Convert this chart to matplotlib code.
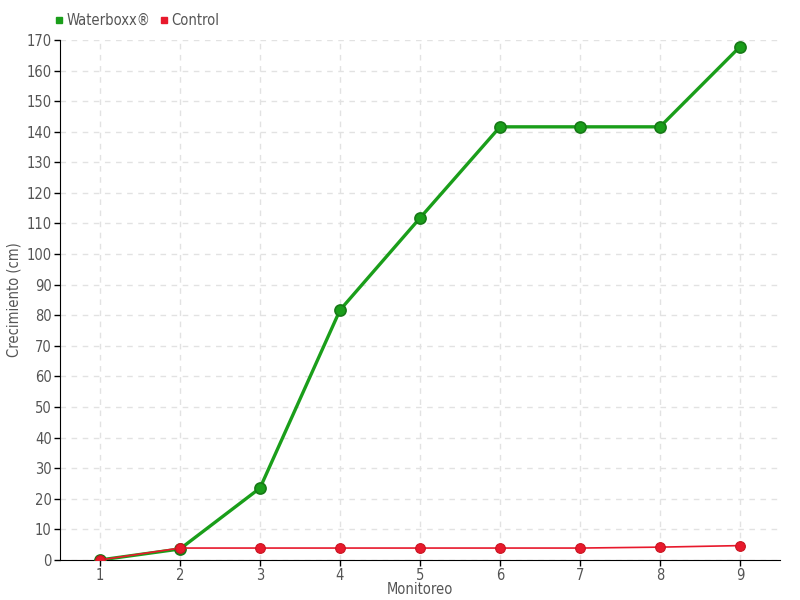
import matplotlib
matplotlib.use("Agg")
import matplotlib.pyplot as plt
from matplotlib.lines import Line2D

monitoreo = [1, 2, 3, 4, 5, 6, 7, 8, 9]
waterboxx = [0, 3.6, 23.5, 81.7, 111.8, 141.6, 141.6, 141.6, 167.8]
control = [0, 3.9, 3.9, 3.9, 3.9, 3.9, 3.9, 4.2, 4.7]
yticks = list(range(0, 171, 10))

txt = "#555555"
green = "#1a9e1a"
red = "#e8192c"
fp = dict(family="DejaVu Sans", stretch="condensed", color=txt)

fig = plt.figure(figsize=(8, 6), dpi=100)
ax = fig.add_axes([0.075, 0.0667, 0.9, 0.8667])

ax.plot(monitoreo, waterboxx, color=green, lw=2.4, marker="o", ms=8,
        markerfacecolor=green, markeredgecolor="#167a16", markeredgewidth=1.2, zorder=3)
ax.plot(monitoreo, control, color=red, lw=1.2, marker="o", ms=7,
        markerfacecolor=red, markeredgecolor="#c8141f", markeredgewidth=0.8, zorder=4)

ax.set_xlim(0.5, 9.5)
ax.set_ylim(0, 170)
ax.set_xticks(monitoreo)
ax.set_yticks(yticks)
ax.set_xticklabels([str(m) for m in monitoreo], fontsize=10.5, **fp)
ax.set_yticklabels([str(y) for y in yticks], fontsize=10.5, **fp)
ax.tick_params(axis="both", length=4, width=1, color="black", pad=2)

ax.grid(True, linestyle=(0, (4, 4)), color="#e2e2e2", lw=1)
ax.set_axisbelow(True)
for s in ["top", "right"]:
    ax.spines[s].set_visible(False)
ax.spines["left"].set_color("black")
ax.spines["bottom"].set_color("black")

ax.set_xlabel("Monitoreo", fontsize=10.5, **fp)
ax.set_ylabel("Crecimiento (cm)", fontsize=10.5, **fp)
ax.yaxis.set_label_coords(-0.054, 0.5)
ax.xaxis.set_label_coords(0.5, -0.042)

handles = [Line2D([], [], ls="none", marker="s", ms=5, color=green),
           Line2D([], [], ls="none", marker="s", ms=5, color=red)]
leg = fig.legend(handles, ["Waterboxx®", "Control"], loc="upper left",
                 bbox_to_anchor=(0.052, 1.0), ncol=2, frameon=False,
                 handlelength=0.6, handletextpad=0.2, columnspacing=0.6,
                 prop=dict(family="DejaVu Sans", stretch="condensed", size=10.5))
for t in leg.get_texts():
    t.set_color(txt)

fig.savefig("out.png", dpi=100)
